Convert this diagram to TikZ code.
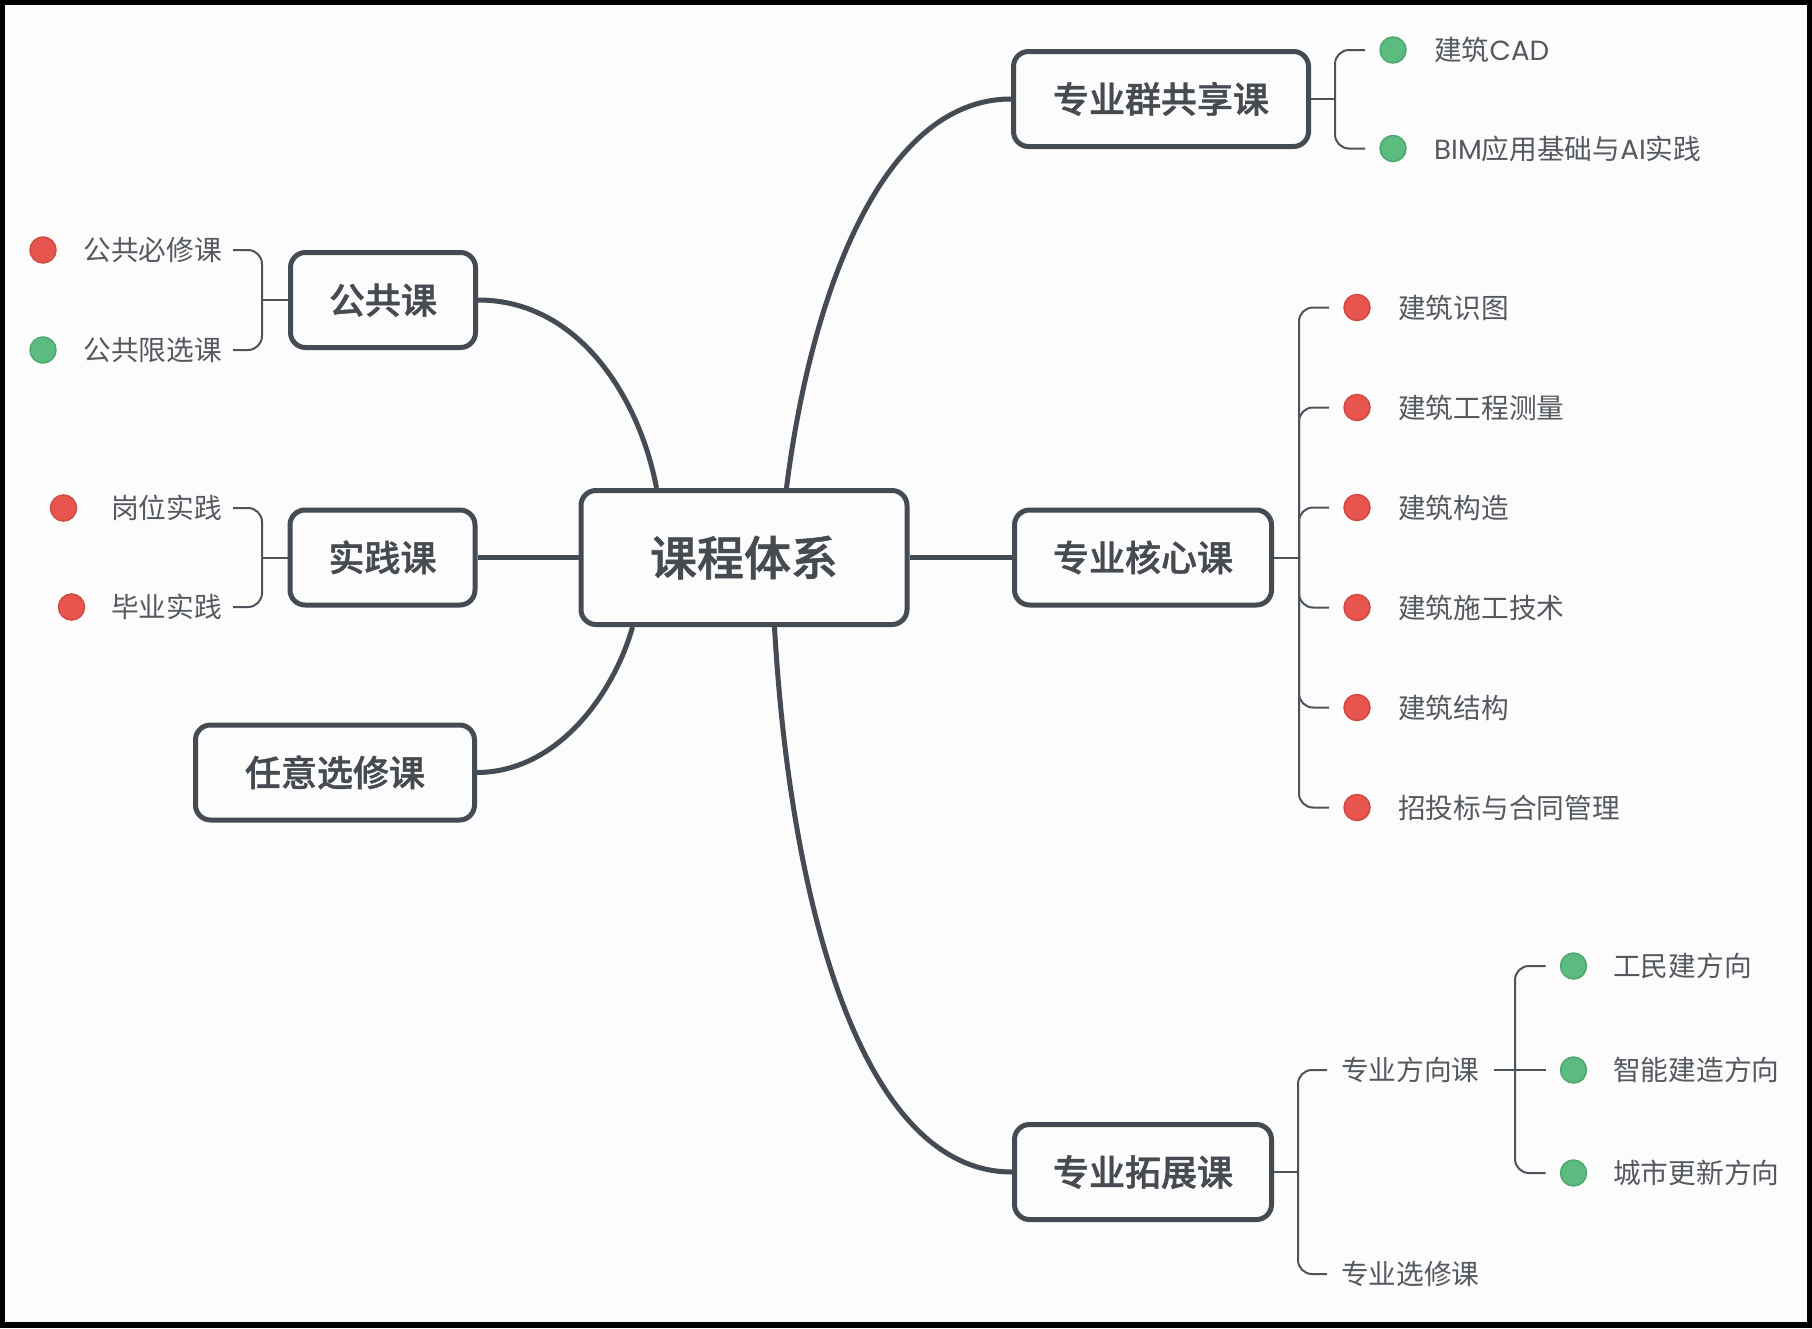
\documentclass[tikz,border=0pt]{standalone}
\usepackage{fontspec}
\setmainfont{Noto Sans CJK SC}[BoldFont={Noto Sans CJK SC Medium}, BoldFeatures={FakeBold=1.2}]
\newfontfamily\lat{Poppins}
\usetikzlibrary{calc}
\definecolor{linec}{HTML}{454B52}
\definecolor{brc}{HTML}{4D535A}
\definecolor{txtc}{HTML}{464B51}
\definecolor{leafc}{HTML}{54595F}
\definecolor{redf}{HTML}{E8554E}
\definecolor{redd}{HTML}{CF4A42}
\definecolor{grnf}{HTML}{5CBB7F}
\definecolor{grnd}{HTML}{4EA76E}
\definecolor{bgc}{HTML}{FCFCFC}
\begin{document}
\begin{tikzpicture}[x=1pt,y=-1pt,
  topic/.style={draw=linec, line width=5pt, rounded corners=15pt, inner sep=0pt,
    minimum height=95pt, text=txtc, text height=31pt, text depth=3.6pt,
    font=\fontsize{36}{40}\selectfont\bfseries},
  rootbox/.style={topic, minimum width=326pt, minimum height=134pt,
    text height=40.4pt, text depth=4.7pt, font=\fontsize{47}{52}\selectfont\bfseries},
  leaf/.style={inner sep=0pt, text=leafc, text height=23.8pt, text depth=2.8pt,
    font=\fontsize{27.7}{30}\selectfont},
  leafl/.style={leaf, anchor=east, outer xsep=11pt},
  leafr/.style={leaf, anchor=west},
  leafm/.style={leaf, anchor=west, outer xsep=14pt},
  rdot/.style={circle, fill=redf, draw=redd, line width=1.5pt, minimum size=26pt, inner sep=0pt, outer sep=15pt},
  gdot/.style={rdot, fill=grnf, draw=grnd},
  mainline/.style={draw=linec, line width=5pt},
  brline/.style={draw=brc, line width=2pt, rounded corners=14pt}
]
\useasboundingbox (0,0) rectangle (1812,1328);
\fill[black] (0,0) rectangle (1812,1328);
\fill[bgc] (5,5) rectangle (1807,1322);

% main topics
\node[rootbox] (root) at (744,557.5) {课程体系};
\node[topic, minimum width=185pt] (gg) at (383,300) {公共课};
\node[topic, minimum width=185pt] (sj) at (382.5,557.5) {实践课};
\node[topic, minimum width=279pt] (ry) at (335,772.5) {任意选修课};
\node[topic, minimum width=295pt] (gs) at (1161,99) {专业群共享课};
\node[topic, minimum width=257pt] (gc) at (1143,557.5) {专业核心课};
\node[topic, minimum width=257pt] (gt) at (1143,1172) {专业拓展课};

% anchor points on the root
\coordinate (r1) at ([xshift=78pt]root.north west);
\coordinate (r2) at ([xshift=208pt]root.north west);
\coordinate (r3) at ([xshift=54pt]root.south west);
\coordinate (r4) at ([xshift=196pt]root.south west);

% main connectors
\draw[mainline] (gg.east) .. controls (580,300) and (640,400) .. (r1);
\draw[mainline] (r2) .. controls (810,300) and (880,99) .. (gs.west);
\draw[mainline] (r3) .. controls (615,690) and (560,772) .. (ry.east);
\draw[mainline] (r4) .. controls (790,900) and (860,1172) .. (gt.west);
\draw[mainline] (root.west) -- (sj.east);
\draw[mainline] (root.east) -- (gc.west);

% ---- 公共课 leaves
\node[rdot] (d11) at (43,250) {};
\node[gdot] (d12) at (43,350) {};
\node[leafl] (t11) at (233,250) {公共必修课};
\node[leafl] (t12) at (233,350) {公共限选课};
\coordinate (j1) at (262,300);
\draw[brline] (gg.west) -- (j1);
\draw[brline] (j1) |- (t11.east);
\draw[brline] (j1) |- (t12.east);

% ---- 实践课 leaves
\node[rdot] (d21) at (63.5,508) {};
\node[rdot] (d22) at (71.5,607) {};
\node[leafl] (t21) at (233,508) {岗位实践};
\node[leafl] (t22) at (233,607) {毕业实践};
\coordinate (j2) at (262,557.5);
\draw[brline] (sj.west) -- (j2);
\draw[brline] (j2) |- (t21.east);
\draw[brline] (j2) |- (t22.east);

% ---- 专业群共享课 leaves
\node[gdot] (d31) at (1393,50) {};
\node[gdot] (d32) at (1393,148.5) {};
\node[leafr] (t31) at (1434,50) {建筑{\lat CAD}};
\node[leafr] (t32) at (1434,148.5) {{\lat BIM}应用基础与{\lat AI}实践};
\coordinate (j3) at (1335,99);
\draw[brline] (gs.east) -- (j3);
\draw[brline] (j3) |- (d31.west);
\draw[brline] (j3) |- (d32.west);

% ---- 专业核心课 leaves
\coordinate (j4) at (1299,557.5);
\draw[brline] (gc.east) -- (j4);
\foreach \i/\yy/\txt in {1/307.5/建筑识图, 2/407.5/建筑工程测量, 3/507.5/建筑构造,
    4/607.5/建筑施工技术, 5/707.5/建筑结构, 6/807.5/招投标与合同管理} {
  \node[rdot] (c\i) at (1357,\yy) {};
  \node[leafr] (ct\i) at (1398,\yy) {\txt};
  \draw[brline] (j4) |- (c\i.west);
}

% ---- 专业拓展课 leaves
\node[leafm] (fx) at (1327,1070) {专业方向课};
\node[leafm] (xx) at (1327,1274) {专业选修课};
\coordinate (j5) at (1298,1172);
\draw[brline] (gt.east) -- (j5);
\draw[brline] (j5) |- (fx.west);
\draw[brline] (j5) |- (xx.west);

\coordinate (j6) at (1515,1070);
\node[gdot] (e1) at (1573.5,966) {};
\node[gdot] (e2) at (1573.5,1070) {};
\node[gdot] (e3) at (1573.5,1173) {};
\node[leafr] (et1) at (1613,966) {工民建方向};
\node[leafr] (et2) at (1613,1070) {智能建造方向};
\node[leafr] (et3) at (1613,1173) {城市更新方向};
\draw[brline] (fx.east) -- (j6);
\draw[brline] (j6) |- (e1.west);
\draw[brline] (j6) -- (e2.west);
\draw[brline] (j6) |- (e3.west);
\end{tikzpicture}
\end{document}
